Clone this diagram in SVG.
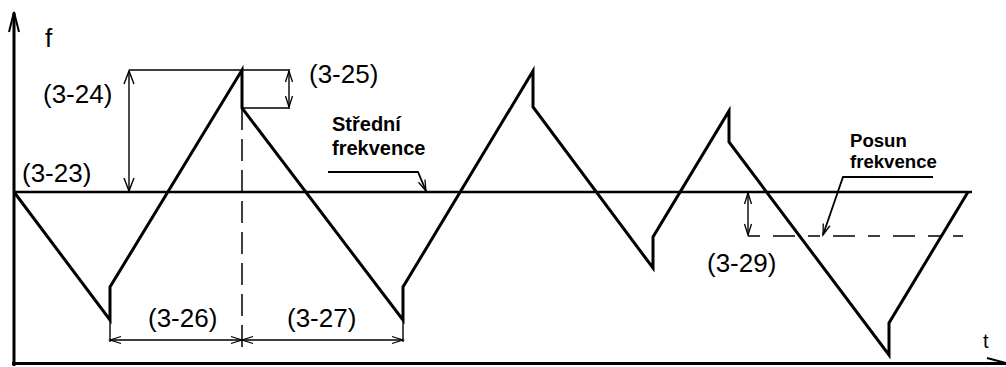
<svg xmlns="http://www.w3.org/2000/svg" width="1006" height="367" viewBox="0 0 1006 367">
<style>
.wave{fill:none;stroke:#000;stroke-width:3;stroke-linejoin:miter}
.axis{fill:none;stroke:#000;stroke-width:3}
.base{fill:none;stroke:#000;stroke-width:2.5}
.thin{fill:none;stroke:#000;stroke-width:1.4}
.dash{fill:none;stroke:#000;stroke-width:1.5}
.lbl{font-family:"Liberation Sans",Arial,sans-serif;font-size:26px;fill:#000}
.bold{font-family:"Liberation Sans",Arial,sans-serif;font-weight:bold;font-size:20px;fill:#000}
</style>
<defs>
<marker id="arr" markerUnits="userSpaceOnUse" markerWidth="14" markerHeight="10" refX="12" refY="5" orient="auto-start-reverse" viewBox="0 0 14 10">
<path d="M1,1.5 L12,5 L1,8.5" fill="none" stroke="#000" stroke-width="1.3"/>
</marker>
<marker id="arrL" markerUnits="userSpaceOnUse" markerWidth="16" markerHeight="12" refX="14" refY="6" orient="auto-start-reverse" viewBox="0 0 16 12">
<path d="M1,1 L14,6 L1,11" fill="none" stroke="#000" stroke-width="1.4"/>
</marker>
</defs>
<g id="axes">
<line class="axis" x1="14" y1="13" x2="14" y2="366"/>
<polyline class="thin" points="9,32 14,12 19,32" style="stroke-width:2"/>
<line class="axis" x1="12" y1="363.5" x2="1006" y2="363.5"/>
<line class="thin" x1="987" y1="358" x2="1006" y2="363" style="stroke-width:2"/>
<text class="lbl" x="45" y="47">f</text>
<text class="lbl" x="983" y="348" style="font-size:20px">t</text>
</g>
<g id="midline">
<line class="base" x1="14" y1="192" x2="972" y2="192"/>
</g>
<g id="signal">
<polyline class="wave" points="14,192 110,320 110,287 242,70 242,108 403,320 403,287 533,71 533,107 653,268 653,237 729,111 729,142 889,355 889,323 968,192"/>
</g>
<g id="connectors">
<line class="thin" x1="129" y1="70" x2="242" y2="70"/>
<line class="thin" x1="242" y1="70" x2="290" y2="70"/>
<line class="thin" x1="242" y1="108" x2="290" y2="108"/>
<line class="thin" x1="129" y1="71" x2="129" y2="191" marker-start="url(#arrL)" marker-end="url(#arrL)"/>
<line class="thin" x1="289" y1="71" x2="289" y2="107" marker-start="url(#arr)" marker-end="url(#arr)"/>
<line class="dash" x1="242" y1="108" x2="242" y2="352" stroke-dasharray="22 9"/>
<line class="thin" x1="110" y1="320" x2="110" y2="342"/>
<line class="thin" x1="403" y1="320" x2="403" y2="342"/>
<line class="thin" x1="110" y1="340" x2="242" y2="340" marker-start="url(#arr)" marker-end="url(#arr)"/>
<line class="thin" x1="242" y1="340" x2="403" y2="340" marker-start="url(#arr)" marker-end="url(#arr)"/>
<polyline class="thin" points="328,172 418,172 426,191" marker-end="url(#arr)" style="stroke-width:1.8"/>
<line class="dash" x1="748" y1="236" x2="963" y2="236" stroke-dasharray="12 13 22 13"/>
<line class="thin" x1="748" y1="193" x2="748" y2="235" marker-start="url(#arr)" marker-end="url(#arr)"/>
<polyline class="thin" points="933,177 843,177 823,235" marker-end="url(#arr)" style="stroke-width:1.8"/>
</g>
<g id="labels">
<text class="lbl" x="43" y="103">(3-24)</text>
<text class="lbl" x="309" y="83">(3-25)</text>
<text class="lbl" x="22" y="182">(3-23)</text>
<text class="lbl" x="148" y="327">(3-26)</text>
<text class="lbl" x="287" y="327">(3-27)</text>
<text class="lbl" x="707" y="272">(3-29)</text>
<text class="bold" x="332" y="131">Střední</text>
<text class="bold" x="332" y="155">frekvence</text>
<text class="bold" x="850" y="147" style="font-size:18.6px">Posun</text>
<text class="bold" x="850" y="168" style="font-size:18.6px">frekvence</text>
</g>
</svg>
